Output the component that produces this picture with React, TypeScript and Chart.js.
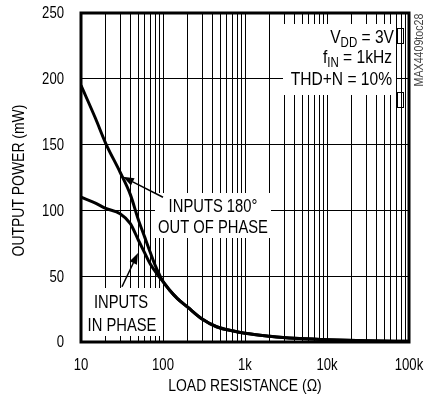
import React, { useEffect, useRef } from "react";
import { Chart, registerables } from "chart.js";

Chart.register(...registerables);

// ---- data ----
const loadOhms = [10, 15, 20, 30, 40, 50, 60, 70, 80, 90, 100, 120, 150, 200, 300, 450, 700, 1000, 2000, 4000, 10000, 30000, 100000];
const powerOutOfPhase = [195, 170, 151, 129, 112, 93, 79.5, 68, 58.5, 51.5, 46, 39.5, 33, 26.5, 17.5, 11.6, 8.5, 6.6, 4.4, 2.8, 1.8, 1.0, 0.5];
const powerInPhase = [110, 105.5, 101.5, 97.5, 90, 77.5, 67.5, 59.2, 53.8, 49.3, 46, 39.5, 33, 26.5, 17.5, 11.6, 8.5, 6.6, 4.4, 2.8, 1.8, 1.0, 0.5];
const xTickValues = [10, 100, 1000, 10000, 100000];
const xTickLabels = ["10", "100", "1k", "10k", "100k"];
const yTickValues = [0, 50, 100, 150, 200, 250];
const xTitle = "LOAD RESISTANCE (Ω)";
const yTitle = "OUTPUT POWER (mW)";

const FONT = '"Liberation Sans", Arial, sans-serif';
const NARROW = 0.82;

type Seg = { t: string; sub?: boolean };

function txt(
  ctx: CanvasRenderingContext2D,
  s: string,
  x: number,
  y: number,
  size: number,
  align: CanvasTextAlign = "left",
  baseline: CanvasTextBaseline = "alphabetic"
) {
  ctx.save();
  ctx.translate(x, y);
  ctx.scale(NARROW, 1);
  ctx.font = `${size}px ${FONT}`;
  ctx.textAlign = align;
  ctx.textBaseline = baseline;
  ctx.fillText(s, 0, 0);
  ctx.restore();
}

function drawSegsRight(ctx: CanvasRenderingContext2D, segs: Seg[], xRight: number, y: number, size: number) {
  const subSize = Math.round(size * 0.72);
  let w = 0;
  for (const s of segs) {
    ctx.font = `${s.sub ? subSize : size}px ${FONT}`;
    w += ctx.measureText(s.t).width * NARROW;
  }
  let x = xRight - w;
  for (const s of segs) {
    txt(ctx, s.t, x, s.sub ? y + 4 : y, s.sub ? subSize : size, "left");
    ctx.font = `${s.sub ? subSize : size}px ${FONT}`;
    x += ctx.measureText(s.t).width * NARROW;
  }
}

function arrow(ctx: CanvasRenderingContext2D, x0: number, y0: number, x1: number, y1: number) {
  const ang = Math.atan2(y1 - y0, x1 - x0);
  const len = 11;
  const half = 4;
  const bx = x1 - len * Math.cos(ang);
  const by = y1 - len * Math.sin(ang);
  ctx.beginPath();
  ctx.moveTo(x0, y0);
  ctx.lineTo(bx, by);
  ctx.lineWidth = 1.5;
  ctx.strokeStyle = "#000";
  ctx.stroke();
  ctx.beginPath();
  ctx.moveTo(x1, y1);
  ctx.lineTo(bx + half * Math.sin(ang), by - half * Math.cos(ang));
  ctx.lineTo(bx - half * Math.sin(ang), by + half * Math.cos(ang));
  ctx.closePath();
  ctx.fillStyle = "#000";
  ctx.fill();
}

const overlay = {
  id: "overlay",
  beforeDatasetsDraw(chart: any) {
    const { ctx, chartArea: a } = chart;
    ctx.save();
    ctx.fillStyle = "#fff";
    ctx.fillRect(a.left + 202, a.top + 11, 113, 71);
    ctx.fillRect(a.left + 74, a.top + 180, 116, 45);
    ctx.fillRect(a.left, a.top + 275, 79, 48);
    ctx.restore();
  },
  afterDatasetsDraw(chart: any) {
    const { ctx, chartArea: a, scales } = chart;
    const xs = scales.x, ys = scales.y;
    const px = (v: number) => xs.getPixelForValue(v);
    const py = (v: number) => ys.getPixelForValue(v);
    ctx.save();
    ctx.lineWidth = 3;
    ctx.strokeStyle = "#000";
    ctx.strokeRect(a.left, a.top, a.right - a.left, a.bottom - a.top);

    ctx.fillStyle = "#000";
    // tick labels
    yTickValues.forEach((v) => txt(ctx, String(v), a.left - 17, py(v) + 1, 16, "right", "middle"));
    xTickValues.forEach((v, i) => txt(ctx, xTickLabels[i], px(v), a.bottom + 28, 16, "center"));
    // axis titles
    txt(ctx, xTitle, (a.left + a.right) / 2, a.bottom + 49, 17, "center");
    ctx.save();
    ctx.translate(24, (a.top + a.bottom) / 2 + 3);
    ctx.rotate(-Math.PI / 2);
    txt(ctx, yTitle, 0, 0, 17, "center");
    ctx.restore();

    // conditions text
    const xr = a.left + 311;
    drawSegsRight(ctx, [{ t: "V" }, { t: "DD", sub: true }, { t: " = 3V" }], xr + 2, a.top + 30, 19);
    drawSegsRight(ctx, [{ t: "f" }, { t: "IN", sub: true }, { t: " = 1kHz" }], xr, a.top + 50, 19);
    drawSegsRight(ctx, [{ t: "THD+N = 10%" }], xr, a.top + 72, 19);
    ctx.lineWidth = 1;
    ctx.strokeRect(a.left + 316.5, a.top + 15.5, 6, 15);
    ctx.strokeRect(a.left + 316.5, a.top + 79.5, 6, 15);

    // curve labels
    txt(ctx, "INPUTS 180°", a.left + 132, a.top + 199, 18, "center");
    txt(ctx, "OUT OF PHASE", a.left + 132, a.top + 220, 18, "center");
    txt(ctx, "INPUTS", a.left + 40, a.top + 295, 18, "center");
    txt(ctx, "IN PHASE", a.left + 41, a.top + 318, 18, "center");

    arrow(ctx, px(100), py(110), px(32.5), py(125.5));
    arrow(ctx, px(31.6), py(42), px(49.6), py(67.6));

    // watermark
    ctx.save();
    ctx.translate(419, a.top + 37);
    ctx.rotate(-Math.PI / 2);
    ctx.fillStyle = "#444";
    txt(ctx, "MAX4409toc28", 0, 0, 13, "center", "middle");
    ctx.restore();
    ctx.restore();
  },
};

export default function App() {
  const ref = useRef<HTMLCanvasElement | null>(null);
  useEffect(() => {
    if (!ref.current) return;
    const chart = new Chart(ref.current, {
      type: "line",
      data: {
        datasets: [
          {
            label: "Inputs 180° out of phase",
            data: loadOhms.map((x, i) => ({ x, y: powerOutOfPhase[i] })),
            borderColor: "#000",
            borderWidth: 3,
            pointRadius: 0,
            cubicInterpolationMode: "monotone",
            fill: false,
          },
          {
            label: "Inputs in phase",
            data: loadOhms.map((x, i) => ({ x, y: powerInPhase[i] })),
            borderColor: "#000",
            borderWidth: 3,
            pointRadius: 0,
            cubicInterpolationMode: "monotone",
            fill: false,
          },
        ],
      },
      options: {
        responsive: false,
        animation: false,
        layout: { padding: { left: 0, top: 13, right: 16, bottom: 0 } },
        plugins: { legend: { display: false }, tooltip: { enabled: false } },
        scales: {
          x: {
            type: "logarithmic",
            min: 10,
            max: 100000,
            afterBuildTicks: (s: any) => {
              const t: { value: number }[] = [];
              for (let e = 1; e <= 4; e++) {
                for (let m = 1; m <= 9; m++) t.push({ value: m * Math.pow(10, e) });
              }
              t.push({ value: 100000 });
              s.ticks = t;
            },
            afterFit: (s: any) => {
              s.height = 60;
              s.paddingLeft = 0;
              s.paddingRight = 0;
            },
            ticks: { display: false, autoSkip: false },
            grid: { color: "#000", lineWidth: 1, drawTicks: false },
            border: { display: false },
          },
          y: {
            min: 0,
            max: 250,
            afterBuildTicks: (s: any) => {
              s.ticks = yTickValues.map((value) => ({ value }));
            },
            afterFit: (s: any) => {
              s.width = 81;
              s.paddingTop = 0;
              s.paddingBottom = 0;
            },
            ticks: { display: false },
            grid: { color: "#000", lineWidth: 1, drawTicks: false },
            border: { display: false },
          },
        },
      },
      plugins: [overlay],
    } as any);
    return () => chart.destroy();
  }, []);
  return (
    <div style={{ position: "fixed", left: 0, top: 0, width: 425, height: 402, background: "#fff" }}>
      <canvas ref={ref} width={425} height={402} style={{ display: "block", width: 425, height: 402 }} />
    </div>
  );
}
